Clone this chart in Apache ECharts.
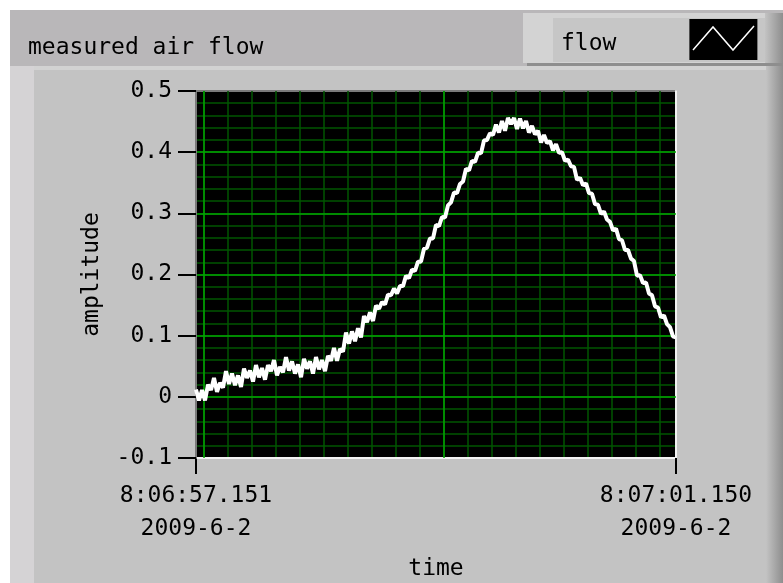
<!DOCTYPE html>
<html lang="en">

<head>
    <meta charset="UTF-8">
    <title>measured air flow</title>
    <script src="https://cdn.jsdelivr.net/npm/echarts@6/dist/echarts.min.js"></script>
    <style>
        body {
            margin: 0;
            background: #fff;
        }
    </style>
</head>

<body>
    <div id="main" style="width: 783px; height: 583px;"></div>
    <script>
        // waveform: t0 = 8:06:57.151, last sample 8:07:01.150
        var duration = 3.999;
        var xTickTimes = ['8:06:57.151', '8:07:01.150'];
        var xTickDates = ['2009-6-2', '2009-6-2'];
        var yTicks = [-0.1, 0, 0.1, 0.2, 0.3, 0.4, 0.5];
        var flow = [
            0.012, -0.006, 0.011, -0.006, 0.020, 0.011, 0.031, 0.008, 0.023, 0.015,
            0.042, 0.021, 0.038, 0.019, 0.035, 0.016, 0.046, 0.031, 0.043, 0.025,
            0.052, 0.032, 0.047, 0.028, 0.052, 0.042, 0.060, 0.035, 0.049, 0.040,
            0.065, 0.043, 0.058, 0.038, 0.053, 0.032, 0.062, 0.046, 0.058, 0.038,
            0.065, 0.045, 0.060, 0.042, 0.067, 0.059, 0.080, 0.059, 0.078, 0.074,
            0.105, 0.087, 0.107, 0.091, 0.112, 0.097, 0.132, 0.122, 0.138, 0.124,
            0.149, 0.144, 0.155, 0.151, 0.167, 0.166, 0.177, 0.169, 0.181, 0.181,
            0.198, 0.194, 0.208, 0.206, 0.221, 0.221, 0.242, 0.244, 0.259, 0.259,
            0.281, 0.279, 0.294, 0.293, 0.313, 0.318, 0.334, 0.333, 0.348, 0.352,
            0.373, 0.370, 0.386, 0.384, 0.399, 0.398, 0.419, 0.420, 0.431, 0.428,
            0.445, 0.432, 0.451, 0.435, 0.456, 0.446, 0.456, 0.438, 0.455, 0.439,
            0.451, 0.432, 0.443, 0.429, 0.435, 0.416, 0.428, 0.415, 0.418, 0.403,
            0.413, 0.399, 0.400, 0.386, 0.388, 0.377, 0.376, 0.355, 0.358, 0.346,
            0.349, 0.333, 0.332, 0.315, 0.314, 0.299, 0.303, 0.290, 0.286, 0.272,
            0.275, 0.258, 0.256, 0.240, 0.240, 0.226, 0.222, 0.198, 0.199, 0.186,
            0.187, 0.169, 0.166, 0.148, 0.146, 0.130, 0.133, 0.119, 0.114, 0.099,
            0.097
        ];

        var font = 'DejaVu Sans Mono';
        var gridBright = '#00a400';
        var gridDark = '#005600';
        // vertical grid of the LabVIEW chart starts a little after t0
        var gridStart = 0.0667;

        var dt = duration / (flow.length - 1);
        var points = [];
        for (var i = 0; i < flow.length; i++) {
            points.push([i * dt, flow[i]]);
        }

        var myChart = echarts.init(document.getElementById('main'));
        var option = {
            backgroundColor: '#fff',
            animation: false,
            title: {
                text: 'measured air flow',
                left: 28,
                top: 37,
                padding: 0,
                textStyle: { fontFamily: font, fontSize: 23, fontWeight: 'normal', color: '#000' }
            },
            legend: {
                data: ['flow'],
                left: 561,
                top: 19,
                padding: 0,
                align: 'right',
                icon: 'rect',
                itemWidth: 68,
                itemHeight: 41,
                itemStyle: { color: '#000', borderWidth: 0 },
                formatter: '{n|{name}}',
                textStyle: {
                    fontFamily: font, fontSize: 23, color: '#000',
                    rich: { n: { fontFamily: font, fontSize: 23, color: '#000', padding: [10, 68, 0, 0] } }
                },
                selectedMode: false
            },
            grid: [{
                left: 196, right: 107, top: 91, bottom: 125,
                outerBoundsMode: 'none',
                show: true, backgroundColor: '#000',
                borderColor: '#7a7a7a', borderWidth: 2
            }, {
                left: 204, right: 107, top: 91, bottom: 125,
                outerBoundsMode: 'none'
            }],
            xAxis: [{
                type: 'value', gridIndex: 0,
                min: 0, max: duration, interval: duration,
                name: 'time', nameLocation: 'middle', nameGap: 100,
                nameTextStyle: { fontFamily: font, fontSize: 23, color: '#000' },
                axisLine: { show: true, onZero: false, lineStyle: { color: '#f2f2f2', width: 2 } },
                axisTick: { show: true, length: 16, lineStyle: { color: '#000', width: 2 } },
                splitLine: { show: false },
                axisLabel: {
                    margin: 22, fontFamily: font, fontSize: 23, color: '#000', lineHeight: 33,
                    formatter: function (v, idx) {
                        return xTickTimes[idx] + '\n' + xTickDates[idx];
                    }
                }
            }, {
                type: 'value', gridIndex: 1, z: 0,
                min: 0, max: duration - gridStart, interval: 0.2,
                axisLine: { show: false }, axisTick: { show: false }, axisLabel: { show: false },
                splitLine: { show: true, showMaxLine: false, lineStyle: { color: gridDark, width: 1.5 } }
            }, {
                type: 'value', gridIndex: 1, z: 1,
                min: 0, max: duration - gridStart, interval: 2,
                axisLine: { show: false }, axisTick: { show: false }, axisLabel: { show: false },
                splitLine: { show: true, showMaxLine: false, lineStyle: { color: gridBright, width: 1.5 } }
            }],
            yAxis: [{
                type: 'value', gridIndex: 0, z: 1,
                min: yTicks[0], max: yTicks[yTicks.length - 1], interval: 0.1,
                name: 'amplitude', nameLocation: 'middle', nameRotate: 90, nameGap: 92,
                nameTextStyle: { fontFamily: font, fontSize: 23, color: '#000' },
                axisLine: { show: true, onZero: false, lineStyle: { color: '#7a7a7a', width: 2 } },
                axisTick: { show: true, length: 18, lineStyle: { color: '#000', width: 2 } },
                axisLabel: { margin: 24, fontFamily: font, fontSize: 23, color: '#000' },
                splitLine: { show: true, showMinLine: false, showMaxLine: false, lineStyle: { color: gridBright, width: 1.5 } }
            }, {
                type: 'value', gridIndex: 0, position: 'right', z: 0,
                min: yTicks[0], max: yTicks[yTicks.length - 1], interval: 0.02,
                axisLine: { show: true, onZero: false, lineStyle: { color: '#f2f2f2', width: 2 } },
                axisTick: { show: false }, axisLabel: { show: false },
                splitLine: { show: true, showMinLine: false, showMaxLine: false, lineStyle: { color: gridDark, width: 1.5 } }
            }, {
                type: 'value', gridIndex: 1, show: false, min: 0, max: 1
            }],
            graphic: {
                elements: [
                    // LabVIEW panel
                    { type: 'rect', z: -100, shape: { x: 10, y: 10, width: 773, height: 573 }, style: { fill: '#c3c3c3' } },
                    { type: 'rect', z: -99, shape: { x: 10, y: 10, width: 773, height: 56 }, style: { fill: '#b9b7b9' } },
                    { type: 'rect', z: -99, shape: { x: 10, y: 66, width: 760, height: 4 }, style: { fill: '#d2d2d2' } },
                    { type: 'rect', z: -99, shape: { x: 10, y: 66, width: 24, height: 517 }, style: { fill: '#d5d3d5' } },
                    {
                        type: 'rect', z: -99, shape: { x: 766, y: 66, width: 17, height: 517 },
                        style: { fill: new echarts.graphic.LinearGradient(0, 0, 1, 0, [{ offset: 0, color: '#c3c3c3' }, { offset: 1, color: '#8e8e8e' }]) }
                    },
                    // legend box
                    { type: 'rect', z: -98, shape: { x: 523, y: 13, width: 260, height: 50 }, style: { fill: '#d3d3d3' } },
                    { type: 'rect', z: -97, shape: { x: 553, y: 18, width: 212, height: 44 }, style: { fill: '#c6c6c6' } },
                    {
                        type: 'rect', z: -97, shape: { x: 765, y: 13, width: 18, height: 50 },
                        style: { fill: new echarts.graphic.LinearGradient(0, 0, 1, 0, [{ offset: 0, color: '#c3c3c3' }, { offset: 1, color: '#8e8e8e' }]) }
                    },
                    { type: 'rect', z: -97, shape: { x: 527, y: 63, width: 256, height: 3 }, style: { fill: '#8e8e8e' } },
                    // plot sample in legend swatch
                    {
                        type: 'polyline', z: 100,
                        shape: { points: [[693, 50], [713, 27], [733, 50], [754, 26]] },
                        style: { stroke: '#fff', lineWidth: 1.5, fill: null }
                    }
                ]
            },
            series: [{
                name: 'flow',
                type: 'line',
                xAxisIndex: 0,
                yAxisIndex: 0,
                z: 5,
                showSymbol: false,
                symbol: 'none',
                lineStyle: { color: '#fff', width: 4 },
                itemStyle: { color: '#fff' },
                data: points
            }]
        };

        myChart.setOption(option);
    </script>
</body>

</html>
